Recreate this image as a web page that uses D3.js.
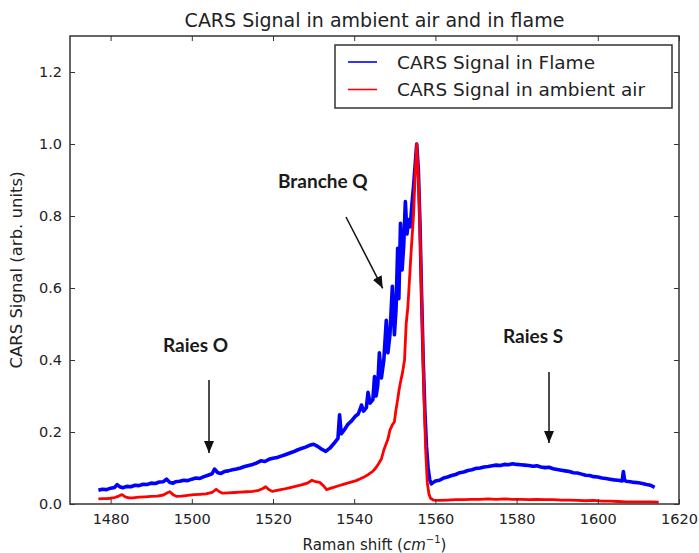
<!DOCTYPE html>
<html>
<head>
<meta charset="utf-8">
<script src="https://cdn.jsdelivr.net/npm/d3@7"></script>
<style>
  html, body { margin: 0; padding: 0; background: #fff; }
  svg { display: block; }
</style>
</head>
<body>
<svg id="chart" width="699" height="553"></svg>
<script>
// ---- Data ----
const flameShift = [1477,1478,1479,1480,1481,1481.6,1482.4,1483,1484,1485,1486,1487,1488,1489,1490,1491,1492,1493,1493.8,1494.6,1495.4,1496,1497,1498,1499,1500,1501,1502,1503,1504,1505,1505.6,1506.4,1507.2,1508,1509,1510,1511,1512,1513,1514,1515,1516,1517,1518,1519,1520,1521,1522,1523,1524,1525,1526,1527,1528,1529,1530,1531,1532,1533,1534,1535,1536,1536.4,1536.8,1537.5,1538.5,1539.3,1540.2,1541,1541.8,1542.3,1543,1543.4,1543.9,1544.6,1545,1545.4,1545.8,1546.2,1546.7,1547.3,1547.9,1548.3,1548.8,1549.4,1549.9,1550.3,1550.7,1551.0,1551.4,1551.8,1552.2,1552.6,1553.0,1553.4,1553.8,1554.2,1554.6,1555.0,1555.4,1555.8,1556.2,1556.6,1557.0,1557.4,1557.8,1558.2,1558.6,1559.0,1559.5,1560,1561,1562,1563,1564,1565,1566,1567,1568,1569,1570,1571,1572,1573,1574,1575,1576,1577,1578,1579,1580,1581,1582,1583,1584,1585,1586,1587,1588,1589,1590,1591,1592,1593,1594,1595,1596,1597,1598,1599,1600,1601,1602,1603,1604,1605,1606,1606.3,1606.6,1607,1608,1609,1610,1611,1612,1613,1614];
const flameSignal = [0.038,0.041,0.040,0.044,0.046,0.054,0.047,0.045,0.049,0.048,0.052,0.051,0.055,0.054,0.058,0.057,0.061,0.062,0.069,0.060,0.058,0.062,0.063,0.066,0.065,0.069,0.072,0.071,0.076,0.080,0.084,0.097,0.087,0.085,0.090,0.092,0.095,0.097,0.100,0.104,0.107,0.110,0.114,0.120,0.118,0.124,0.127,0.129,0.133,0.137,0.141,0.145,0.150,0.154,0.158,0.163,0.166,0.160,0.152,0.146,0.155,0.168,0.182,0.248,0.195,0.205,0.222,0.230,0.243,0.250,0.275,0.258,0.268,0.310,0.280,0.290,0.354,0.300,0.330,0.420,0.350,0.400,0.510,0.420,0.470,0.605,0.470,0.540,0.710,0.570,0.780,0.650,0.720,0.840,0.750,0.790,0.770,0.830,0.880,0.940,1.000,0.930,0.780,0.580,0.400,0.260,0.160,0.100,0.068,0.056,0.060,0.064,0.066,0.072,0.075,0.079,0.082,0.087,0.089,0.093,0.095,0.099,0.100,0.103,0.104,0.106,0.108,0.107,0.110,0.109,0.112,0.110,0.109,0.108,0.107,0.105,0.106,0.103,0.101,0.102,0.098,0.096,0.094,0.092,0.090,0.087,0.086,0.083,0.080,0.079,0.076,0.075,0.072,0.071,0.069,0.067,0.066,0.064,0.090,0.066,0.063,0.062,0.060,0.059,0.057,0.054,0.052,0.046];

const airShift = [1477,1478,1479,1480,1481,1482,1482.8,1483.6,1484.5,1485.5,1487,1488.5,1490,1491.5,1493,1494,1494.6,1495.4,1496.3,1497.5,1499,1500.5,1502,1503.5,1505,1506,1506.8,1507.6,1509,1510.5,1512,1513.5,1515,1516.5,1517.5,1518.2,1519,1519.8,1521,1522.5,1524,1525.5,1527,1528.5,1529.6,1530.5,1531.5,1532.5,1533.2,1534.5,1536,1537.5,1539,1540.5,1541.5,1542.6,1543.5,1544.5,1545.3,1546,1546.7,1547.3,1547.8,1548.3,1548.8,1549.4,1549.9,1550.3,1550.7,1551.1,1551.5,1551.9,1552.4,1552.8,1553.2,1553.6,1554.1,1554.6,1555.0,1555.4,1555.7,1556.0,1556.4,1556.8,1557.2,1557.6,1558.0,1558.4,1558.8,1559.5,1561,1563,1565,1567,1569,1571,1573,1575,1577,1579,1581,1583,1585,1587,1589,1591,1593,1595,1597,1599,1601,1603,1605,1607,1609,1611,1613,1615];
const airSignal = [0.014,0.015,0.015,0.016,0.018,0.022,0.026,0.020,0.017,0.017,0.019,0.020,0.021,0.022,0.025,0.031,0.034,0.026,0.021,0.022,0.024,0.026,0.027,0.028,0.032,0.041,0.034,0.030,0.031,0.032,0.033,0.034,0.035,0.038,0.043,0.048,0.040,0.035,0.038,0.041,0.045,0.049,0.053,0.058,0.066,0.062,0.060,0.050,0.040,0.045,0.050,0.055,0.060,0.065,0.070,0.076,0.082,0.090,0.100,0.112,0.125,0.150,0.165,0.180,0.205,0.220,0.228,0.262,0.290,0.320,0.344,0.365,0.400,0.500,0.545,0.620,0.715,0.800,0.910,1.000,0.930,0.850,0.670,0.480,0.300,0.150,0.060,0.028,0.016,0.011,0.010,0.011,0.012,0.012,0.013,0.013,0.014,0.013,0.014,0.013,0.013,0.012,0.013,0.012,0.012,0.011,0.011,0.010,0.009,0.010,0.008,0.008,0.007,0.006,0.006,0.006,0.006,0.005];

const xTicks = [1480,1500,1520,1540,1560,1580,1600,1620];
const yTicks = [0.0,0.2,0.4,0.6,0.8,1.0,1.2];
const seriesNames = ["CARS Signal in Flame","CARS Signal in ambient air"];
const seriesColors = ["#0000ff","#ff0000"];
const annotationLabels = ["Raies O","Branche Q","Raies S"];

// ---- Layout ----
const svg = d3.select("#chart");
const L = 70, R = 679, T = 36, B = 504;
const x = d3.scaleLinear().domain([1470, 1620]).range([L, R]);
const y = d3.scaleLinear().domain([0, 1.3]).range([B, T]);
const frameColor = "#333";
const textColor = "#222";
const font = "'DejaVu Sans', sans-serif";

// Title
svg.append("text").attr("x", (L + R) / 2).attr("y", 27)
  .attr("text-anchor", "middle").attr("font-family", font).attr("font-size", 19)
  .attr("fill", textColor).text("CARS Signal in ambient air and in flame");

// Lines
const line = d3.line().x(d => x(d[0])).y(d => y(d[1]));
const flame = flameShift.map((v, i) => [v, flameSignal[i]]);
const air = airShift.map((v, i) => [v, airSignal[i]]);

const plot = svg.append("g");
plot.append("path").datum(flame).attr("d", line).attr("fill", "none")
  .attr("stroke", seriesColors[0]).attr("stroke-width", 3.6).attr("stroke-linejoin", "round");
plot.append("path").datum(air).attr("d", line).attr("fill", "none")
  .attr("stroke", seriesColors[1]).attr("stroke-width", 2.8).attr("stroke-linejoin", "round");

// Frame
svg.append("rect").attr("x", L).attr("y", T).attr("width", R - L).attr("height", B - T)
  .attr("fill", "none").attr("stroke", frameColor).attr("stroke-width", 1.5);

// Axes with inward ticks
const xAxisB = d3.axisBottom(x).tickValues(xTicks).tickSize(-5).tickPadding(10).tickFormat(d3.format("d"));
const xAxisT = d3.axisTop(x).tickValues(xTicks).tickSize(-5).tickFormat("");
const yAxisL = d3.axisLeft(y).tickValues(yTicks).tickSize(-5).tickPadding(8).tickFormat(d3.format(".1f"));
const yAxisR = d3.axisRight(y).tickValues(yTicks).tickSize(-5).tickFormat("");

function styleAxis(g) {
  g.select(".domain").remove();
  g.selectAll(".tick line").attr("stroke", frameColor).attr("stroke-width", 1);
  g.selectAll(".tick text").attr("font-family", font).attr("font-size", 14.5).attr("fill", textColor);
}
svg.append("g").attr("transform", `translate(0,${B})`).call(xAxisB).call(styleAxis);
svg.append("g").attr("transform", `translate(0,${T})`).call(xAxisT).call(styleAxis);
svg.append("g").attr("transform", `translate(${L},0)`).call(yAxisL).call(styleAxis);
svg.append("g").attr("transform", `translate(${R},0)`).call(yAxisR).call(styleAxis);

// Axis labels
const xl = svg.append("text").attr("x", (L + R) / 2).attr("y", 550)
  .attr("text-anchor", "middle").attr("font-family", font).attr("font-size", 15).attr("fill", textColor);
xl.append("tspan").text("Raman shift (");
xl.append("tspan").attr("font-style", "italic").text("cm");
xl.append("tspan").attr("font-size", 10).attr("dy", -7).text("\u22121");
xl.append("tspan").attr("dy", 7).text(")");

svg.append("text").attr("transform", `translate(22,${(T + B) / 2}) rotate(-90)`)
  .attr("text-anchor", "middle").attr("font-family", font).attr("font-size", 16.5)
  .attr("fill", textColor).text("CARS Signal (arb. units)");

// Legend
const lg = svg.append("g");
lg.append("rect").attr("x", 335).attr("y", 45).attr("width", 337).attr("height", 63)
  .attr("fill", "#fff").attr("stroke", frameColor).attr("stroke-width", 1.5);
seriesNames.forEach((n, i) => {
  const yy = 62 + i * 27.5;
  lg.append("line").attr("x1", 348).attr("x2", 377).attr("y1", yy).attr("y2", yy)
    .attr("stroke", seriesColors[i]).attr("stroke-width", 1.6);
  lg.append("text").attr("x", 397).attr("y", yy + 6.5).attr("font-family", font)
    .attr("font-size", 18.5).attr("fill", textColor).text(n);
});

// Annotations
const annFont = "Lato, 'Open Sans', sans-serif";
const defs = svg.append("defs");
defs.append("marker").attr("id", "arrow").attr("viewBox", "0 0 12 10")
  .attr("refX", 12).attr("refY", 5).attr("markerWidth", 12).attr("markerHeight", 10)
  .attr("markerUnits", "userSpaceOnUse").attr("orient", "auto")
  .append("path").attr("d", "M0,0 L12,5 L0,10 Z").attr("fill", "#111");

const annText = [[163, 352], [278, 188], [503, 343]];
const annArrows = [[209, 380, 209, 453], [346, 217, 382.7, 288.3], [549, 372, 549, 443]];
annotationLabels.forEach((t, i) => {
  svg.append("text").attr("x", annText[i][0]).attr("y", annText[i][1])
    .attr("font-family", annFont).attr("font-weight", "bold").attr("font-size", 19)
    .attr("fill", "#1a1a1a").text(t);
  const a = annArrows[i];
  svg.append("line").attr("x1", a[0]).attr("y1", a[1]).attr("x2", a[2]).attr("y2", a[3])
    .attr("stroke", "#111").attr("stroke-width", 1.5).attr("marker-end", "url(#arrow)");
});
</script>
</body>
</html>
